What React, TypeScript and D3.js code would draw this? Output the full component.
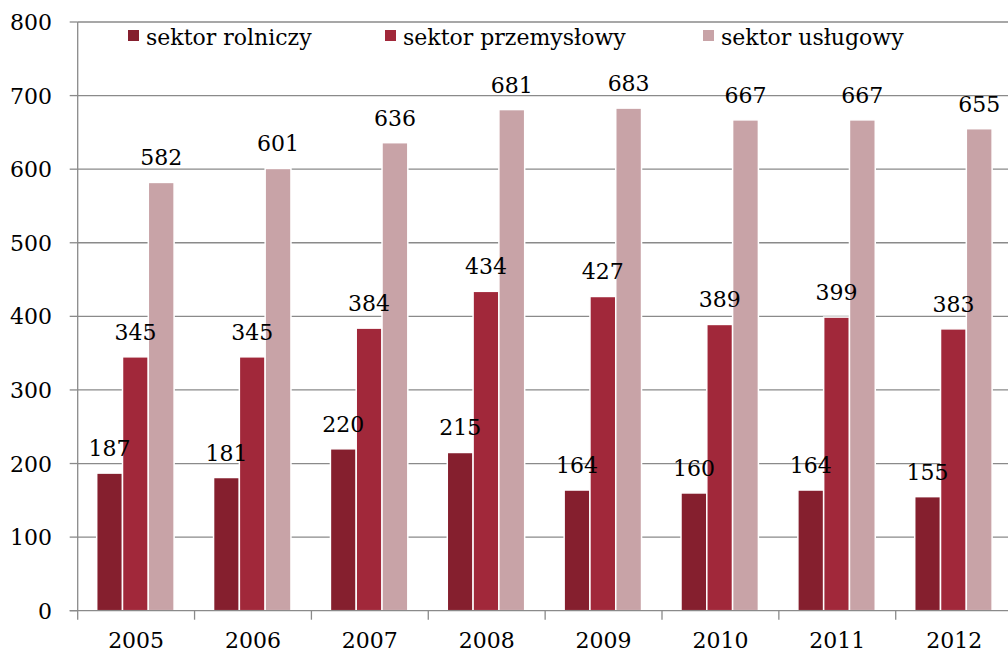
import React, { useEffect, useRef } from 'react';
import * as d3 from 'd3';

const years = ['2005', '2006', '2007', '2008', '2009', '2010', '2011', '2012'];
const seriesNames = ['sektor rolniczy', 'sektor przemysłowy', 'sektor usługowy'];
const rolniczy = [187, 181, 220, 215, 164, 160, 164, 155];
const przemyslowy = [345, 345, 384, 434, 427, 389, 399, 383];
const uslugowy = [582, 601, 636, 681, 683, 667, 667, 655];
const yTicks = [0, 100, 200, 300, 400, 500, 600, 700, 800];
const colors = ['#851f2e', '#a1283a', '#c8a3a7'];

const W = 1008;
const H = 657;

const App = () => {
    const svgRef = useRef<SVGSVGElement>(null);

    useEffect(() => {
        const svg = d3.select(svgRef.current);
        svg.selectAll('*').remove();

        const left = 77.7;
        const step = 116.86;
        const x = d3.scaleBand().domain(years).range([left, left + step * years.length]).paddingInner(0).paddingOuter(0);
        const y = d3.scaleLinear().domain([0, 800]).range([610.7, 22]);
        const font = '"DejaVu Serif", serif';
        const axisColor = '#8a8a8a';

        // gridlines
        svg.append('g').selectAll('line').data(yTicks.filter(d => d > 0)).join('line')
            .attr('x1', left).attr('x2', W)
            .attr('y1', d => y(d)).attr('y2', d => y(d))
            .attr('stroke', axisColor).attr('stroke-width', 1.3);

        // y ticks and labels
        const ya = svg.append('g');
        ya.selectAll('line').data(yTicks).join('line')
            .attr('x1', left - 8).attr('x2', left)
            .attr('y1', d => y(d)).attr('y2', d => y(d))
            .attr('stroke', axisColor).attr('stroke-width', 1.3);
        ya.selectAll('text').data(yTicks).join('text')
            .attr('x', 52).attr('y', d => y(d) + 8)
            .attr('text-anchor', 'end')
            .attr('font-family', font).attr('font-size', 22).attr('fill', '#000')
            .text(d => d);

        const series = [rolniczy, przemyslowy, uslugowy];
        const slot = 25.8;
        const groupOffset = 19;
        const barX = (i: number, si: number) => (x(years[i]) as number) + groupOffset + si * slot;

        // bars first, all series
        series.forEach((vals, si) => {
            svg.append('g').selectAll('rect').data(vals).join('rect')
                .attr('x', (d, i) => barX(i, si))
                .attr('width', slot)
                .attr('y', d => y(d))
                .attr('height', d => y(0) - y(d))
                .attr('fill', colors[si])
                .attr('stroke', '#fff').attr('stroke-width', 1.5);
        });

        // then value labels on top
        series.forEach((vals, si) => {
            svg.append('g').selectAll('text').data(vals).join('text')
                .attr('x', (d, i) => barX(i, si) + slot / 2)
                .attr('y', d => y(d) - 17)
                .attr('text-anchor', 'middle')
                .attr('font-family', font).attr('font-size', 22).attr('fill', '#000')
                .text(d => d);
        });

        // axes lines
        svg.append('line').attr('x1', left).attr('x2', left).attr('y1', 22).attr('y2', y(0))
            .attr('stroke', axisColor).attr('stroke-width', 1.3);
        svg.append('line').attr('x1', left - 8).attr('x2', W).attr('y1', y(0)).attr('y2', y(0))
            .attr('stroke', axisColor).attr('stroke-width', 1.3);

        // x ticks
        const xa = svg.append('g');
        xa.selectAll('line').data(years).join('line')
            .attr('x1', d => x(d) as number).attr('x2', d => x(d) as number)
            .attr('y1', y(0)).attr('y2', y(0) + 9)
            .attr('stroke', axisColor).attr('stroke-width', 1.3);
        xa.selectAll('text').data(years).join('text')
            .attr('x', d => (x(d) as number) + x.bandwidth() / 2)
            .attr('y', 648)
            .attr('text-anchor', 'middle')
            .attr('font-family', font).attr('font-size', 22).attr('fill', '#000')
            .text(d => d);

        // legend
        const legendX = [128, 385, 703];
        const lg = svg.append('g');
        seriesNames.forEach((name, i) => {
            lg.append('rect').attr('x', legendX[i]).attr('y', 30).attr('width', 11).attr('height', 11)
                .attr('fill', colors[i]);
            lg.append('text').attr('x', legendX[i] + 18).attr('y', 45)
                .attr('font-family', font).attr('font-size', 22).attr('fill', '#000')
                .text(name);
        });
    }, []);

    return (
        <svg ref={svgRef} width={W} height={H}
            style={{ position: 'absolute', left: 0, top: 0, background: '#fff' }} />
    );
};

export default App;
